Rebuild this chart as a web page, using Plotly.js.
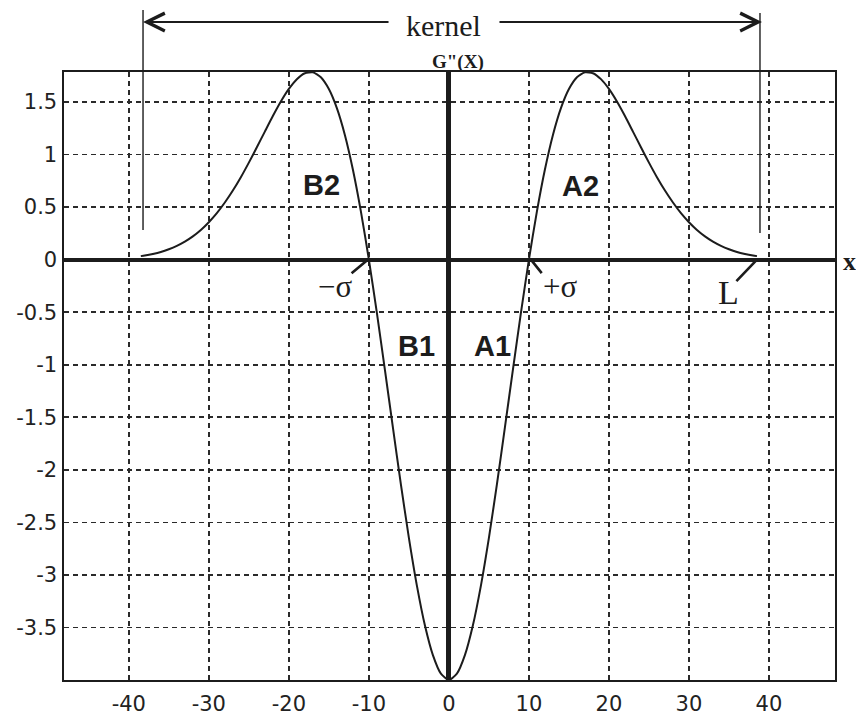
<!DOCTYPE html>
<html>
<head>
<meta charset="utf-8">
<script src="https://cdn.plot.ly/plotly-3.0.1.min.js"></script>
<style>html,body{margin:0;padding:0;background:#fff;}#chart{width:856px;height:715px;}</style>
</head>
<body>
<div id="chart"></div>
<script>
// G''(x) curve, values
const xValues = [-38.5,-38,-37,-36,-35,-34,-33,-32,-31,-30,-29,-28,-27,-26,-25,-24,-23,-22,-21,-20,
  -19,-18,-17,-16,-15,-14,-13,-12,-11,-10,-9,-8,-7,-6,-5,-4,-3,-2,-1,0,
  1,2,3,4,5,6,7,8,9,10,11,12,13,14,15,16,17,18,19,20,
  21,22,23,24,25,26,27,28,29,30,31,32,33,34,35,36,37,38,38.5];
const gValues = [0.033,0.039,0.054,0.073,0.099,0.131,0.171,0.221,0.282,0.356,0.442,0.543,0.657,0.784,0.923,1.069,1.218,1.366,1.504,1.624,
  1.717,1.773,1.782,1.735,1.623,1.441,1.186,0.857,0.459,0,-0.507,-1.046,-1.597,-2.138,-2.648,-3.102,-3.480,-3.764,-3.940,-4.0,
  -3.940,-3.764,-3.480,-3.102,-2.648,-2.138,-1.597,-1.046,-0.507,0,0.459,0.857,1.186,1.441,1.623,1.735,1.782,1.773,1.717,1.624,
  1.504,1.366,1.218,1.069,0.923,0.784,0.657,0.543,0.442,0.356,0.282,0.221,0.171,0.131,0.099,0.073,0.054,0.039,0.033];
const xTicks = [-40,-30,-20,-10,0,10,20,30,40];
const xTickLabels = ['-40','-30','-20','-10','0','10','20','30','40'];
const yTicks = [-3.5,-3,-2.5,-2,-1.5,-1,-0.5,0,0.5,1,1.5];
const yTickLabels = ['-3.5','-3','-2.5','-2','-1.5','-1','-0.5','0','0.5','1','1.5'];

const ink = '#1c1c1c';
const sans = 'Liberation Sans, Arial, sans-serif';
const tickSans = 'DejaVu Sans, sans-serif';
const serif = 'Liberation Serif, Times New Roman, serif';

const trace = {
  x: xValues, y: gValues, type: 'scatter', mode: 'lines',
  line: {color: ink, width: 2, shape: 'spline', smoothing: 0.6},
  hoverinfo: 'skip', showlegend: false
};

const axisCommon = {
  showgrid: true, gridcolor: '#2a2a2a', gridwidth: 1.6, griddash: '5px,4px',
  zeroline: true, zerolinecolor: ink,
  showline: true, mirror: true, linecolor: ink, linewidth: 1.6,
  ticks: '', tickfont: {family: tickSans, size: 21, color: '#222'},
  fixedrange: true
};

function note(xref, yref, x, y, text, family, size) {
  return {xref: xref, yref: yref, x: x, y: y, text: text, showarrow: false,
          xanchor: 'center', yanchor: 'middle',
          font: {family: family, size: size, color: ink}};
}

const layout = {
  width: 856, height: 715,
  margin: {l: 64, r: 21, t: 72, b: 35},
  paper_bgcolor: '#fff', plot_bgcolor: '#fff',
  showlegend: false,
  xaxis: Object.assign({}, axisCommon, {
    range: [-48.1, 48.25], tickvals: xTicks, ticktext: xTickLabels,
    zerolinewidth: 5, ticklabelstandoff: 4
  }),
  yaxis: Object.assign({}, axisCommon, {
    range: [-4.0, 1.785], tickvals: yTicks, ticktext: yTickLabels,
    zerolinewidth: 4, ticklabelstandoff: 1
  }),
  shapes: [
    {type: 'line', xref: 'paper', yref: 'paper', x0: 0.1025, x1: 0.1025, y0: 0.740, y1: 1.102,
     line: {color: ink, width: 1.4}},
    {type: 'line', xref: 'paper', yref: 'paper', x0: 0.9027, x1: 0.9027, y0: 0.735, y1: 1.097,
     line: {color: ink, width: 1.4}}
  ],
  annotations: [
    // kernel label and arrows
    note('paper', 'paper', 0.4916, 1.076, 'kernel', serif, 30),
    {xref: 'paper', yref: 'paper', x: 0.1025, y: 1.0822, text: '', showarrow: true,
     ax: 247, ay: 0, arrowhead: 5, arrowsize: 1.6, arrowwidth: 2.2, arrowcolor: ink},
    {xref: 'paper', yref: 'paper', x: 0.9053, y: 1.0822, text: '', showarrow: true,
     ax: -264, ay: 0, arrowhead: 5, arrowsize: 1.6, arrowwidth: 2.2, arrowcolor: ink},
    // axis names
    note('paper', 'paper', 0.511, 1.0165, '<b>G"(X)</b>', serif, 19),
    note('paper', 'paper', 1.0185, 0.689, '<b>x</b>', serif, 26),
    // region labels
    note('x', 'y', -15.9, 0.71, '<b>B2</b>', sans, 29),
    note('x', 'y', 16.5, 0.70, '<b>A2</b>', sans, 29),
    note('x', 'y', -4.1, -0.82, '<b>B1</b>', sans, 29),
    note('x', 'y', 5.5, -0.82, '<b>A1</b>', sans, 29),
    // sigma and L markers
    note('x', 'y', -14.25, -0.26, '\u2212\u03c3', serif, 31),
    note('x', 'y', 13.9, -0.26, '+\u03c3', serif, 31),
    note('x', 'y', 35.0, -0.31, 'L', serif, 34),
    {xref: 'x', yref: 'y', x: -10.1, y: 0, text: '', showarrow: true,
     ax: -18, ay: 15, arrowhead: 0, arrowwidth: 2.6, arrowcolor: ink},
    {xref: 'x', yref: 'y', x: 10.25, y: 0, text: '', showarrow: true,
     ax: 12, ay: 15, arrowhead: 0, arrowwidth: 2.6, arrowcolor: ink},
    {xref: 'x', yref: 'y', x: 38.5, y: 0, text: '', showarrow: true,
     ax: -22, ay: 23, arrowhead: 0, arrowwidth: 2.6, arrowcolor: ink}
  ]
};

Plotly.newPlot('chart', [trace], layout, {staticPlot: true, displayModeBar: false});
</script>
</body>
</html>
